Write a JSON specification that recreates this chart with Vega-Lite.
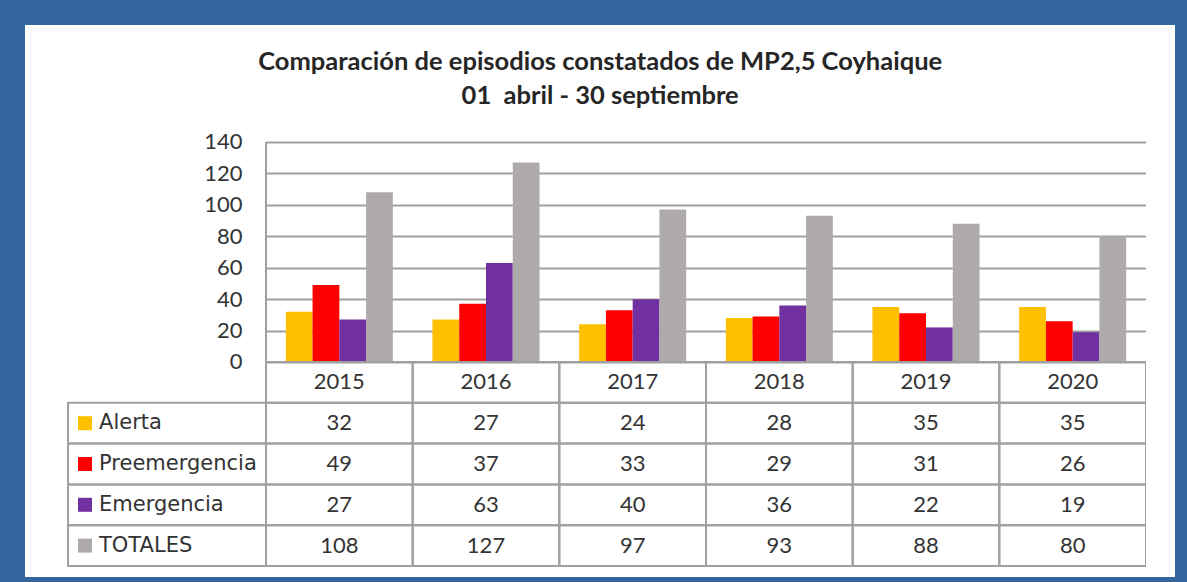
{
  "$schema": "https://vega.github.io/schema/vega-lite/v6.json",
  "background": "#31659B",
  "padding": {"left": 25, "top": 25, "right": 12, "bottom": 5},
  "spacing": 0,
  "bounds": "flush",
  "title": {
    "text": ["Comparación de episodios constatados de MP2,5 Coyhaique", "01\u00a0\u00a0abril - 30 septiembre"],
    "anchor": "middle",
    "font": "Lato",
    "fontSize": 25.5,
    "fontWeight": "bold",
    "color": "#262626",
    "lineHeight": 34,
    "offset": -84
  },
  "datasets": {
    "datos": [
      {"anio": "2015", "serie": "Alerta", "valor": 32},
      {"anio": "2015", "serie": "Preemergencia", "valor": 49},
      {"anio": "2015", "serie": "Emergencia", "valor": 27},
      {"anio": "2015", "serie": "TOTALES", "valor": 108},
      {"anio": "2016", "serie": "Alerta", "valor": 27},
      {"anio": "2016", "serie": "Preemergencia", "valor": 37},
      {"anio": "2016", "serie": "Emergencia", "valor": 63},
      {"anio": "2016", "serie": "TOTALES", "valor": 127},
      {"anio": "2017", "serie": "Alerta", "valor": 24},
      {"anio": "2017", "serie": "Preemergencia", "valor": 33},
      {"anio": "2017", "serie": "Emergencia", "valor": 40},
      {"anio": "2017", "serie": "TOTALES", "valor": 97},
      {"anio": "2018", "serie": "Alerta", "valor": 28},
      {"anio": "2018", "serie": "Preemergencia", "valor": 29},
      {"anio": "2018", "serie": "Emergencia", "valor": 36},
      {"anio": "2018", "serie": "TOTALES", "valor": 93},
      {"anio": "2019", "serie": "Alerta", "valor": 35},
      {"anio": "2019", "serie": "Preemergencia", "valor": 31},
      {"anio": "2019", "serie": "Emergencia", "valor": 22},
      {"anio": "2019", "serie": "TOTALES", "valor": 88},
      {"anio": "2020", "serie": "Alerta", "valor": 35},
      {"anio": "2020", "serie": "Preemergencia", "valor": 26},
      {"anio": "2020", "serie": "Emergencia", "valor": 19},
      {"anio": "2020", "serie": "TOTALES", "valor": 80}
    ]
  },
  "config": {
    "view": {"fill": "white", "stroke": null},
    "font": "Lato"
  },
  "hconcat": [
    {
      "width": 241,
      "height": 552,
      "data": {"name": "datos"},
      "transform": [{"filter": "datum.anio === '2015'"}],
      "layer": [
        {
          "mark": {"type": "rect", "fill": "transparent", "stroke": "#9F9F9F", "strokeWidth": 2},
          "encoding": {
            "x": {"datum": "lbl", "type": "nominal", "scale": {"domain": ["lbl"], "paddingInner": 0, "paddingOuter": 0.1086, "align": 1}, "axis": null},
            "y": {"field": "serie", "type": "nominal", "scale": {"domain": ["Año", "Alerta", "Preemergencia", "Emergencia", "TOTALES"], "range": [337, 541], "paddingInner": 0, "paddingOuter": 0}, "axis": null}
          }
        },
        {
          "mark": {"type": "point", "shape": "square", "filled": true, "size": 196, "opacity": 1},
          "encoding": {
            "x": {"datum": "lbl", "type": "nominal", "bandPosition": 0.0859},
            "y": {"field": "serie", "type": "nominal"},
            "color": {"field": "serie", "type": "nominal", "scale": {"domain": ["Alerta", "Preemergencia", "Emergencia", "TOTALES"], "range": ["#FFC000", "#FF0000", "#7030A0", "#AEAAAA"]}, "legend": null}
          }
        },
        {
          "mark": {"type": "text", "align": "left", "baseline": "middle", "font": "DejaVu Sans", "fontSize": 21, "color": "#333333"},
          "encoding": {
            "x": {"datum": "lbl", "type": "nominal", "bandPosition": 0.1566},
            "y": {"field": "serie", "type": "nominal"},
            "text": {"field": "serie", "type": "nominal"}
          }
        }
      ]
    },
    {
      "width": 880,
      "height": 552,
      "layer": [
        {
          "layer": [
            {
              "data": {"name": "datos"},
              "mark": {"type": "bar"},
              "encoding": {
                "x": {"field": "anio", "type": "nominal", "scale": {"domain": ["2015", "2016", "2017", "2018", "2019", "2020"], "paddingInner": 0, "paddingOuter": 0}, "axis": null},
                "xOffset": {"field": "serie", "type": "nominal", "scale": {"domain": ["Alerta", "Preemergencia", "Emergencia", "TOTALES"], "paddingInner": 0, "paddingOuter": 0.74}},
                "y": {
                  "field": "valor", "type": "quantitative",
                  "scale": {"domain": [-136.82, 214.45], "nice": false, "zero": false},
                  "axis": {
                    "values": [0, 20, 40, 60, 80, 100, 120, 140],
                    "grid": true, "gridColor": "#9F9F9F", "gridWidth": 2,
                    "domain": false, "ticks": false,
                    "labelFont": "Lato", "labelFontSize": 22, "labelColor": "#333333",
                    "labelPadding": 24, "title": null
                  }
                },
                "color": {"field": "serie", "type": "nominal", "scale": {"domain": ["Alerta", "Preemergencia", "Emergencia", "TOTALES"], "range": ["#FFC000", "#FF0000", "#7030A0", "#AEAAAA"]}, "legend": null}
              }
            },
            {
              "data": {"values": [{}]},
              "mark": {"type": "rule", "color": "#9F9F9F", "strokeWidth": 2},
              "encoding": {
                "x": {"datum": "2015", "type": "nominal", "bandPosition": 0},
                "y": {"datum": 0, "type": "quantitative"},
                "y2": {"datum": 140}
              }
            }
          ]
        },
        {
          "data": {"name": "datos"},
          "layer": [
            {
              "mark": {"type": "rect", "fill": "transparent", "stroke": "#9F9F9F", "strokeWidth": 2},
              "encoding": {
                "x": {"field": "anio", "type": "nominal"},
                "y": {"field": "serie", "type": "nominal", "scale": {"domain": ["Año", "Alerta", "Preemergencia", "Emergencia", "TOTALES"], "range": [337, 541], "paddingInner": 0, "paddingOuter": 0}, "axis": null}
              }
            },
            {
              "mark": {"type": "text", "font": "Lato", "fontSize": 22, "color": "#333333"},
              "encoding": {
                "x": {"field": "anio", "type": "nominal"},
                "y": {"field": "serie", "type": "nominal"},
                "text": {"field": "valor", "type": "quantitative"}
              }
            },
            {
              "transform": [{"filter": "datum.serie === 'Alerta'"}],
              "mark": {"type": "rect", "fill": "transparent", "stroke": "#9F9F9F", "strokeWidth": 2},
              "encoding": {
                "x": {"field": "anio", "type": "nominal"},
                "y": {"datum": "Año", "type": "nominal"}
              }
            },
            {
              "transform": [{"filter": "datum.serie === 'Alerta'"}],
              "mark": {"type": "text", "font": "Lato", "fontSize": 22, "color": "#333333"},
              "encoding": {
                "x": {"field": "anio", "type": "nominal"},
                "y": {"datum": "Año", "type": "nominal"},
                "text": {"field": "anio", "type": "nominal"}
              }
            }
          ]
        }
      ],
      "resolve": {"scale": {"y": "independent"}}
    },
    {
      "width": 29,
      "height": 552,
      "data": {"name": "datos"},
      "mark": {"type": "point", "opacity": 0},
      "encoding": {
        "x": {"field": "anio", "type": "nominal", "axis": null},
        "y": {"field": "serie", "type": "nominal", "axis": null}
      }
    }
  ]
}
